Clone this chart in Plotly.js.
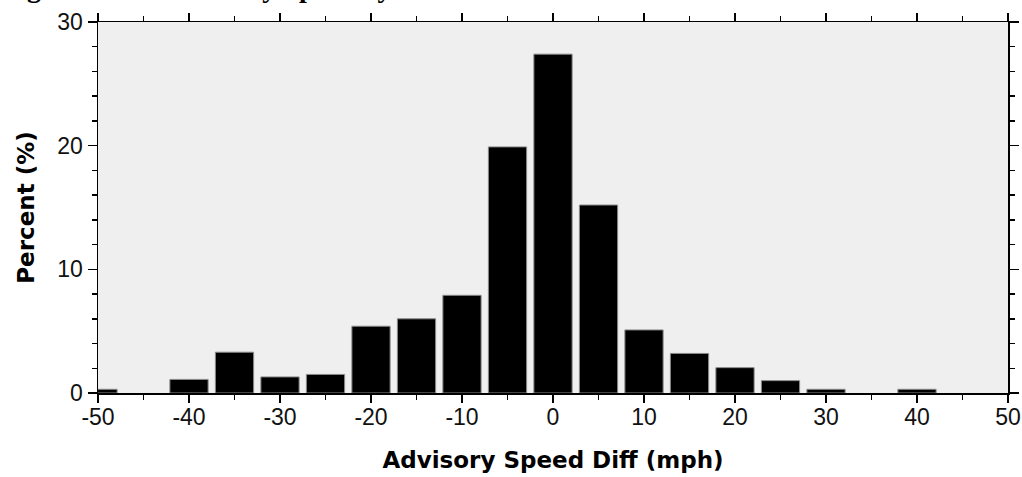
<!DOCTYPE html>
<html>
<head>
<meta charset="utf-8">
<script src="https://cdn.plot.ly/plotly-3.0.1.min.js"></script>
<style>
  html, body { margin: 0; padding: 0; background: #ffffff; }
  #chart { width: 1022px; height: 477px; }
</style>
</head>
<body>
<div id="chart"></div>
<script>
// Bin centres (mph) of the advisory speed difference histogram
const speedDiff = [-50, -45, -40, -35, -30, -25, -20, -15, -10, -5, 0, 5, 10, 15, 20, 25, 30, 35, 40, 45, 50];
// Percent of curves in each bin
const percent   = [0.3, 0, 1.1, 3.3, 1.3, 1.5, 5.4, 6.0, 7.9, 19.9, 27.4, 15.2, 5.1, 3.2, 2.05, 1.0, 0.3, 0, 0.3, 0, 0];

const xTickVals  = [-50, -40, -30, -20, -10, 0, 10, 20, 30, 40, 50];
const xTickText  = ['-50', '-40', '-30', '-20', '-10', '0', '10', '20', '30', '40', '50'];
const yTickVals  = [0, 10, 20, 30];
const yTickText  = ['0', '10', '20', '30'];

const titleText  = 'Figure 4. The Advisory Speed by Curve';
const xTitle     = 'Advisory Speed Diff (mph)';
const yTitle     = 'Percent (%)';

const tickFont  = {family: '"Liberation Sans", Arial, sans-serif', size: 23, color: '#111111'};
const titleFont = {family: '"DejaVu Sans", sans-serif', size: 23, color: '#000000', weight: 'bold'};

const trace = {
  type: 'bar',
  x: speedDiff,
  y: percent,
  marker: {
    color: '#000000',
    line: {color: '#8a8a8a', width: percent.map(v => (v > 0 ? 1 : 0))}
  },
  hoverinfo: 'x+y',
  showlegend: false
};

const layout = {
  width: 1022,
  height: 477,
  margin: {l: 98, r: 14, t: 22, b: 84, pad: 0},
  paper_bgcolor: '#ffffff',
  plot_bgcolor: '#efefef',
  bargap: 0.16,
  xaxis: {
    range: [-50, 50],
    tickmode: 'array',
    tickvals: xTickVals,
    ticktext: xTickText,
    ticks: 'outside',
    ticklen: 8,
    tickwidth: 1.5,
    tickcolor: '#000000',
    ticklabelstandoff: -5,
    minor: {dtick: 5, tick0: 0, ticks: 'outside', ticklen: 5, tickwidth: 1.5, tickcolor: '#000000', showgrid: false},
    showline: true,
    linecolor: '#000000',
    linewidth: 1.5,
    mirror: 'allticks',
    showgrid: false,
    zeroline: false,
    tickfont: tickFont,
    title: {text: xTitle, font: titleFont, standoff: 23}
  },
  yaxis: {
    range: [0, 30],
    tickmode: 'array',
    tickvals: yTickVals,
    ticktext: yTickText,
    ticks: 'outside',
    ticklen: 9,
    tickwidth: 1.5,
    tickcolor: '#000000',
    minor: {dtick: 2, tick0: 0, ticks: 'outside', ticklen: 5, tickwidth: 1.5, tickcolor: '#000000', showgrid: false},
    showline: true,
    linecolor: '#000000',
    linewidth: 1.5,
    mirror: 'allticks',
    showgrid: false,
    zeroline: false,
    tickfont: tickFont,
    title: {text: yTitle, font: titleFont, standoff: 16}
  },
  annotations: [{
    text: '<b>' + titleText + '</b>',
    xref: 'paper', yref: 'paper',
    x: -98 / 910, y: 1,
    xanchor: 'left', yanchor: 'bottom',
    yshift: 17,
    showarrow: false,
    font: {family: '"Liberation Serif", "Times New Roman", serif', size: 28, color: '#000000'}
  }]
};

Plotly.newPlot('chart', [trace], layout, {staticPlot: true, displayModeBar: false});
</script>
</body>
</html>
